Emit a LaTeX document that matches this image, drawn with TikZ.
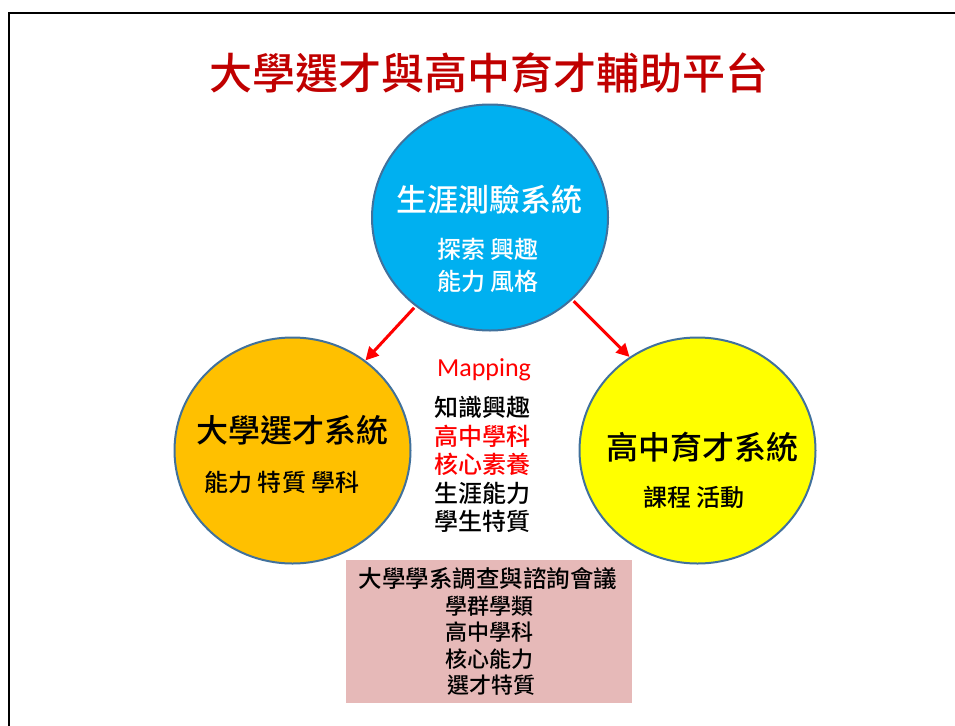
\documentclass[tikz,border=0pt]{standalone}
\usepackage{fontspec}
\newfontfamily\cjk{Noto Sans CJK TC}
\newfontfamily\cjkm{Noto Sans CJK TC Medium}
\newfontfamily\lat{Carlito}
\usetikzlibrary{shapes.geometric,arrows.meta}
\definecolor{titlered}{HTML}{C00000}
\definecolor{ringline}{HTML}{41719C}
\definecolor{skyfill}{HTML}{00B0F0}
\definecolor{orangefill}{HTML}{FFC000}
\definecolor{yellowfill}{HTML}{FFFF00}
\definecolor{pinkfill}{HTML}{E6B9B8}
\definecolor{arrowred}{HTML}{FF0000}
\tikzset{
  bubble/.style={ellipse, draw=ringline, line width=2pt, minimum width=236pt, minimum height=226pt, inner sep=0pt},
  txt/.style={inner sep=0pt, font=\cjk},
  txtm/.style={inner sep=0pt, font=\cjkm},
  redarrow/.style={draw=arrowred, line width=3pt, -{Triangle[length=13pt,width=13pt]}, shorten <=2pt},
}
\newcommand{\fs}[1]{\fontsize{#1}{#1}\selectfont}
\begin{document}
\begin{tikzpicture}[x=1pt,y=-1pt]
\useasboundingbox (0,0) rectangle (955,725);
% frame
\draw[line width=2.5pt, black] (9,740) -- (9,13) -- (970,13);
% title
\node[txtm, text=titlered] (title) at (489,73) {\fs{43}大學選才與高中育才輔助平台};
% bubbles
\node[bubble, fill=skyfill] (top) at (490,217.5) {};
\node[bubble, fill=orangefill] (left) at (292.5,450.5) {};
\node[bubble, fill=yellowfill] (right) at (697.5,450.5) {};
% top text
\node[txtm, text=white] (t1) at (489,200) {\fs{31}生涯測驗系統};
\node[txtm, text=white] (t2) at (488,249) {\fs{24}探索 興趣};
\node[txtm, text=white] (t3) at (488,281) {\fs{24}能力 風格};
% left text
\node[txtm] (l1) at (292.5,430) {\fs{32}大學選才系統};
\node[txtm] (l2) at (282,482) {\fs{24}能力 特質 學科};
% right text
\node[txtm] (r1) at (702,447) {\fs{32}高中育才系統};
\node[txtm] (r2) at (694,497) {\fs{24}課程 活動};
% middle
\node[inner sep=0pt, text=arrowred] (map) at (484,370) {\lat\fs{26}Mapping};
\node[txtm] (m1) at (482,407) {\fs{24}知識興趣};
\node[txtm, text=arrowred] (m2) at (482,436) {\fs{24}高中學科};
\node[txtm, text=arrowred] (m3) at (482,464) {\fs{24}核心素養};
\node[txtm] (m4) at (482,493) {\fs{24}生涯能力};
\node[txtm] (m5) at (482,521) {\fs{24}學生特質};
% box
\node[fill=pinkfill, minimum width=286pt, minimum height=143pt, inner sep=0pt] (box) at (489,631.5) {};
\node[txtm] (b1) at (488,579) {\fs{23.5}大學學系調查與諮詢會議};
\node[txtm] (b2) at (489,606) {\fs{22}學群學類};
\node[txtm] (b3) at (489,632) {\fs{22}高中學科};
\node[txtm] (b4) at (489,659) {\fs{22}核心能力};
\node[txtm] (b5) at (491,685) {\fs{22}選才特質};
% arrows
\draw[redarrow] (top.230) -- (left.51);
\draw[redarrow] (top.315) -- (right.126);
\end{tikzpicture}
\end{document}
